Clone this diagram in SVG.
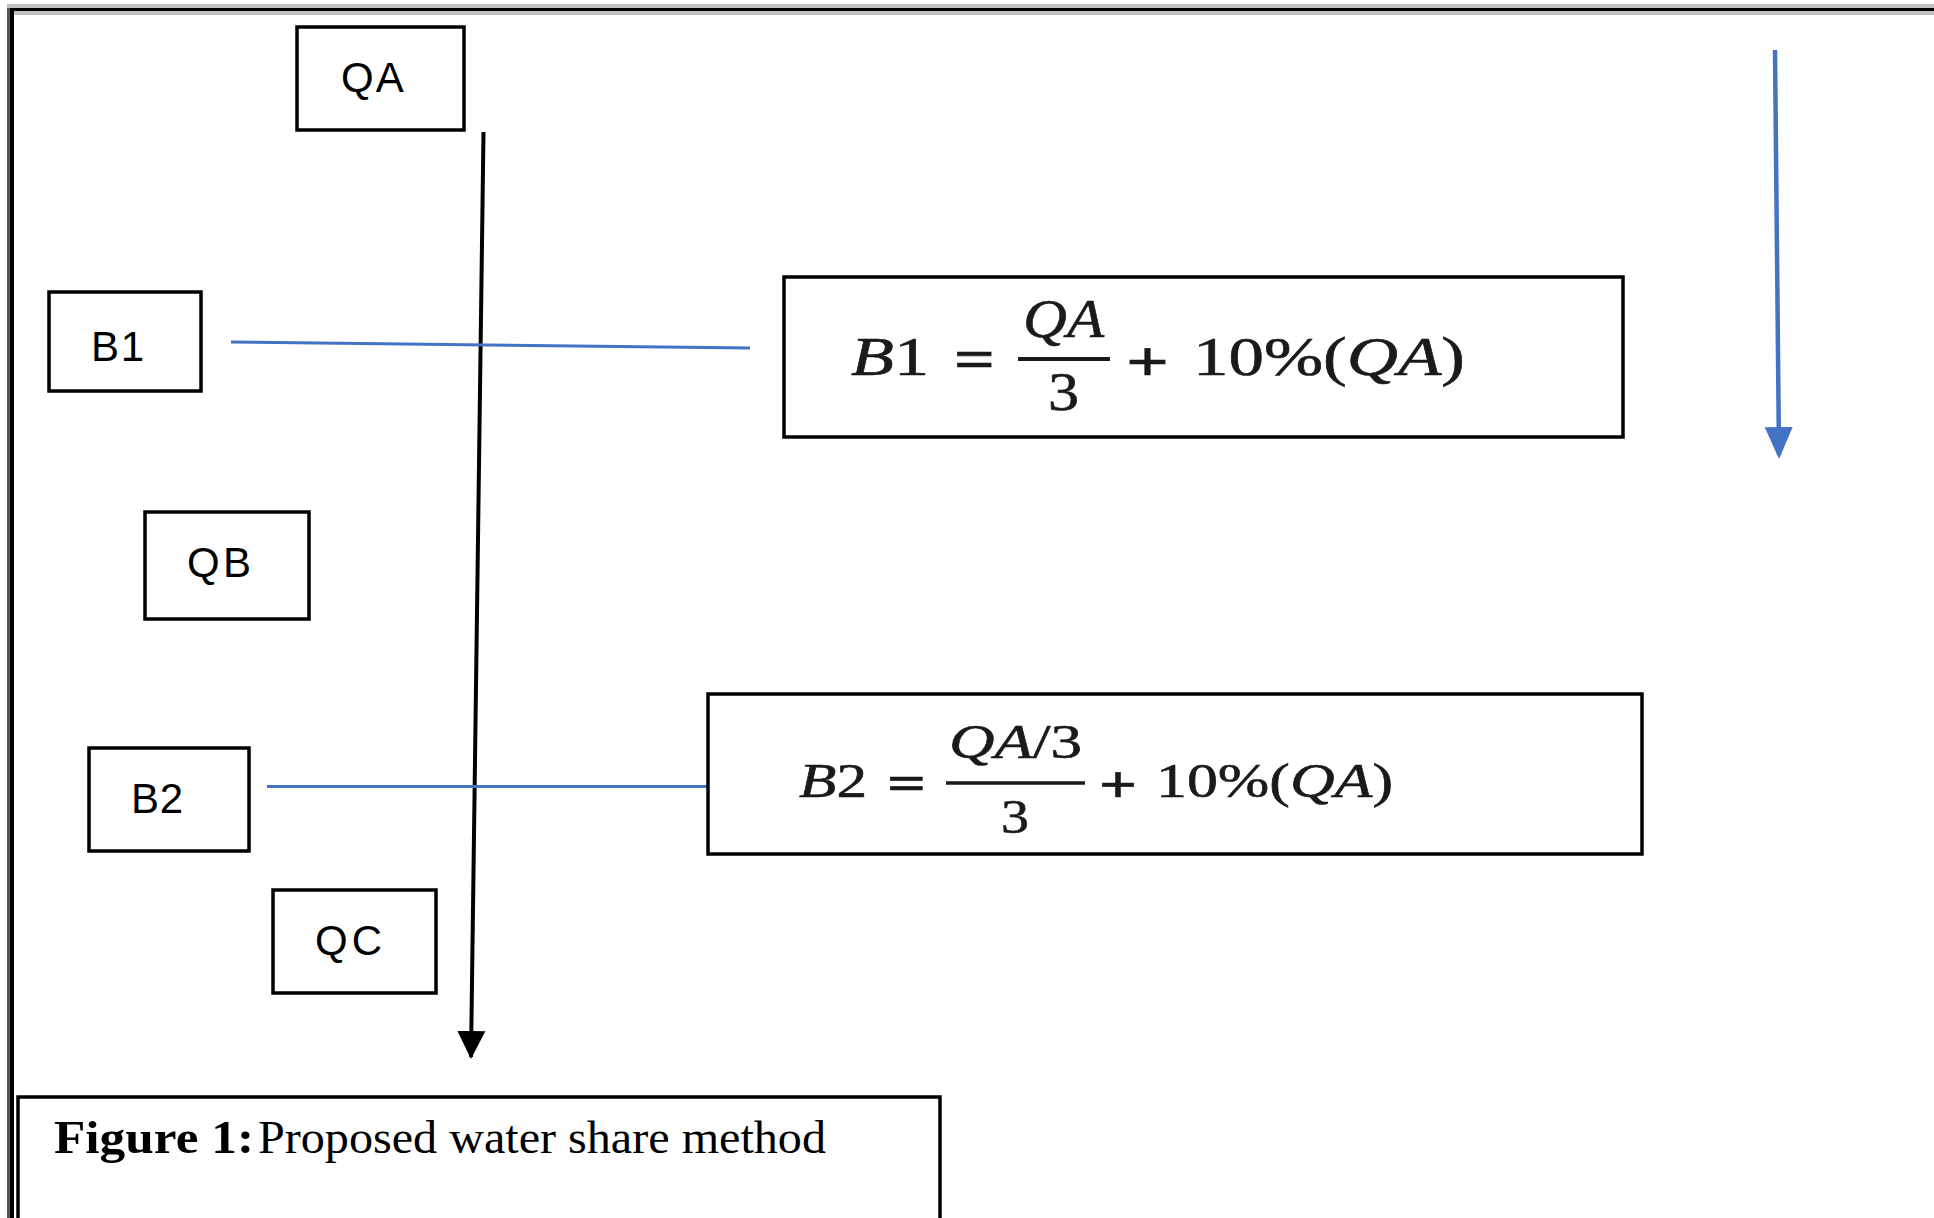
<svg xmlns="http://www.w3.org/2000/svg" width="1934" height="1218" viewBox="0 0 1934 1218">
<style>
.box{fill:#fff;stroke:#000;stroke-width:3.5}
.lbl{font-family:"Liberation Sans",Arial,sans-serif;font-size:42px;fill:#000}
.math{font-family:"Liberation Serif","Times New Roman",serif;fill:#1a1a1a;stroke:#1a1a1a;stroke-width:0.6}
.it{font-style:italic}
.op{font-weight:bold}
.cap{font-family:"Liberation Serif","Times New Roman",serif;font-size:47px;fill:#000}
.blue{stroke:#4472C4;fill:none}
</style>
<defs>
<marker id="headK" markerUnits="userSpaceOnUse" markerWidth="30" markerHeight="30" refX="26" refY="14" orient="auto" viewBox="0 0 30 28">
<path d="M0,0 L28,14 L0,28 z" fill="#000"/>
</marker>
<marker id="headB" markerUnits="userSpaceOnUse" markerWidth="32" markerHeight="30" refX="28" refY="14" orient="auto" viewBox="0 0 32 28">
<path d="M0,0 L32,14 L0,28 z" fill="#4472C4"/>
</marker>
</defs>
<rect width="1934" height="1218" fill="#fff"/>
<!-- frame -->
<rect x="7" y="4" width="1927" height="11" fill="#c0c0c0"/>
<rect x="9" y="8" width="1925" height="3" fill="#000"/>
<rect x="7" y="8" width="3" height="1210" fill="#555"/>
<rect x="10" y="8" width="4" height="1210" fill="#000"/>

<g id="connectors">
<line x1="483.5" y1="132" x2="471" y2="1057" stroke="#000" stroke-width="4" marker-end="url(#headK)"/>
<line class="blue" x1="231" y1="342" x2="750" y2="348" stroke-width="3"/>
<line class="blue" x1="267" y1="786.5" x2="707" y2="786.5" stroke-width="3"/>
<line class="blue" x1="1775" y1="50" x2="1779" y2="455" stroke-width="4.5" marker-end="url(#headB)"/>
</g>

<g id="QA">
<rect class="box" x="297" y="27" width="167" height="103"/>
<text class="lbl" x="341" y="92" font-size="44" letter-spacing="2">QA</text>
</g>
<g id="B1">
<rect class="box" x="49" y="292" width="152" height="99"/>
<text class="lbl" x="91" y="361" textLength="53">B1</text>
</g>
<g id="QB">
<rect class="box" x="145" y="512" width="164" height="107"/>
<text class="lbl" x="187" y="577" textLength="64">QB</text>
</g>
<g id="B2">
<rect class="box" x="89" y="748" width="160" height="103"/>
<text class="lbl" x="131" y="813" textLength="52">B2</text>
</g>
<g id="QC">
<rect class="box" x="273" y="890" width="163" height="103"/>
<text class="lbl" x="315" y="955" textLength="67">QC</text>
</g>

<g id="formula1">
<rect class="box" x="784" y="277" width="839" height="160"/>
<text class="math" font-size="54" x="851" y="375" textLength="78" lengthAdjust="spacingAndGlyphs"><tspan class="it">B</tspan>1</text>
<text class="math op" font-size="54" x="954" y="377" textLength="41" lengthAdjust="spacingAndGlyphs">=</text>
<text class="math it" font-size="54" x="1023" y="337" textLength="81" lengthAdjust="spacingAndGlyphs">QA</text>
<line x1="1018" y1="359" x2="1110" y2="359" stroke="#1a1a1a" stroke-width="4"/>
<text class="math" font-size="54" x="1048" y="410" textLength="31" lengthAdjust="spacingAndGlyphs">3</text>
<text class="math op" font-size="58" x="1126" y="381" textLength="43" lengthAdjust="spacingAndGlyphs">+</text>
<text class="math" font-size="54" x="1193" y="375" textLength="272" lengthAdjust="spacingAndGlyphs">10%(<tspan class="it">QA</tspan>)</text>
</g>

<g id="formula2">
<rect class="box" x="708" y="694" width="934" height="160"/>
<text class="math" font-size="48" x="799" y="797" textLength="68" lengthAdjust="spacingAndGlyphs"><tspan class="it">B</tspan>2</text>
<text class="math op" font-size="48" x="887" y="799" textLength="39" lengthAdjust="spacingAndGlyphs">=</text>
<text class="math" font-size="48" x="949" y="758" textLength="133" lengthAdjust="spacingAndGlyphs"><tspan class="it">QA</tspan>/3</text>
<line x1="946" y1="783" x2="1085" y2="783" stroke="#1a1a1a" stroke-width="3.5"/>
<text class="math" font-size="48" x="1001" y="833" textLength="28" lengthAdjust="spacingAndGlyphs">3</text>
<text class="math op" font-size="52" x="1099" y="802" textLength="38" lengthAdjust="spacingAndGlyphs">+</text>
<text class="math" font-size="48" x="1156" y="797" textLength="237" lengthAdjust="spacingAndGlyphs">10%(<tspan class="it">QA</tspan>)</text>
</g>

<g id="caption">
<rect class="box" x="18" y="1097" width="922" height="125"/>
<text class="cap" x="54" y="1153" font-weight="bold" textLength="200" lengthAdjust="spacingAndGlyphs">Figure 1:</text>
<text class="cap" x="258" y="1153" textLength="568" lengthAdjust="spacingAndGlyphs">Proposed water share method</text>
</g>
</svg>
